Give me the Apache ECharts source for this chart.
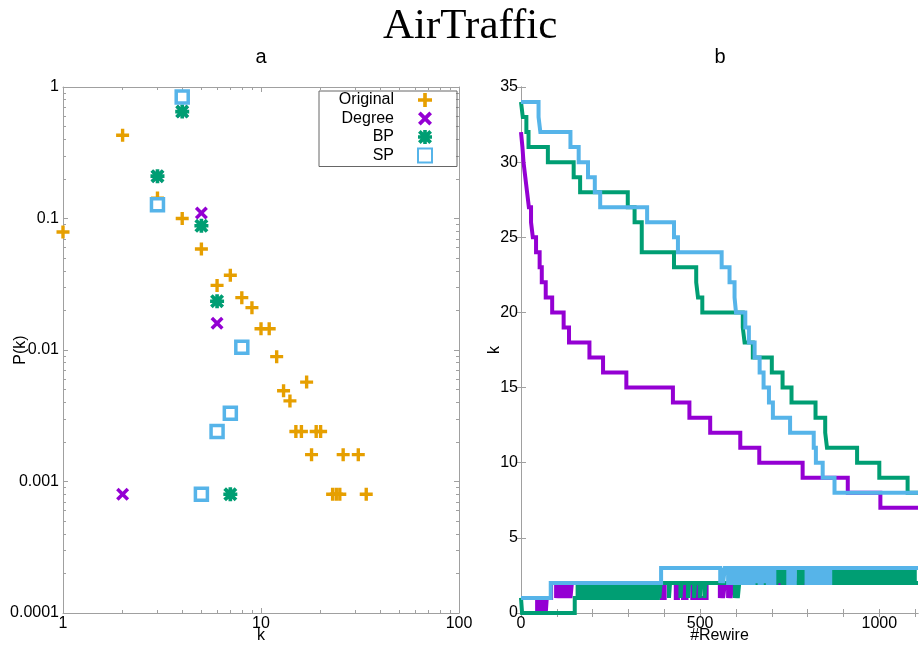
<!DOCTYPE html>
<html><head><meta charset="utf-8">
<script src="https://cdn.jsdelivr.net/npm/echarts@6.0.0/dist/echarts.min.js"></script>
<style>html,body{margin:0;padding:0;background:#fff}#chart{width:920px;height:647px}</style>
</head><body><div id="chart"></div>
<script>
// ---------- Panel a: degree distribution (log-log) ----------
const originalK = [1,2,3,4,5,6,7,8,9,10,11,12,13,14,15,16,17,18,19,20,23,24,25,26,31,34];
const originalP = [0.079,0.43,0.143,0.1,0.0586,0.031,0.037,0.025,0.021,0.0145,0.0145,0.0089,0.0049,0.0041,0.0024,0.0024,0.0057,0.0016,0.0024,0.0024,0.0008,0.0008,0.0008,0.0016,0.0016,0.0008];
const degreeK = [2,3,4,5,6];
const degreeP = [0.0008,0.21,0.65,0.11,0.016];
const bpK = [3,4,5,6,7];
const bpP = [0.21,0.65,0.088,0.0235,0.0008];
const spK = [3,4,5,6,7,8];
const spP = [0.127,0.84,0.0008,0.0024,0.0033,0.0105];
const xTickLabelsA = ['1','10','100'];
const yTickLabelsA = ['0.0001','0.001','0.01','0.1','1'];
const xMinorA = [2,3,4,5,6,7,8,9,20,30,40,50,60,70,80,90];
const yMinorA = [0.0002,0.0003,0.0004,0.0005,0.0006,0.0007,0.0008,0.0009,0.002,0.003,0.004,0.005,0.006,0.007,0.008,0.009,0.02,0.03,0.04,0.05,0.06,0.07,0.08,0.09,0.2,0.3,0.4,0.5,0.6,0.7,0.8,0.9];

// ---------- Panel b: k vs #Rewire (step lines) ----------
const degreeMaxK = [[0,32],[4,31],[7,30],[12,29],[17,28],[22,27],[28,26],[33,25],[42,24],[52,23],[58,22],[69,21],[87,20],[119,19],[134,18],[191,17],[229,16],[294,15],[424,14],[470,13],[528,12],[612,11],[665,10],[786,9],[912,8],[1003,7],[1108,7]];
const degreeMinK = [[0,1],[45,0],[49,1],[53,0],[57,1],[61,0],[65,1],[69,0],[72,1],[84,2],[98,1],[103,2],[108,1],[113,2],[118,1],[123,2],[128,1],[133,2],[138,1],[142,2],[182,1],[186,2],[262,1],[266,2],[300,1],[304,2],[369,1],[373,2],[392,1],[401,2],[432,1],[438,2],[452,1],[462,2],[478,1],[490,2],[495,1],[518,2],[555,1],[560,2],[564,1],[569,2],[578,1],[582,2],[585,1],[589,2],[611,3],[614,2],[700,3],[704,2],[760,3],[764,2],[820,3],[824,2],[900,3],[904,2],[960,3],[964,2],[1020,3],[1024,2],[1108,2]];
const bpMaxK = [[0,34],[5,33],[15,32],[21,31],[75,30],[147,29],[165,28],[298,27],[317,26],[337,24],[427,23],[489,22],[494,21],[506,20],[619,19],[624,18],[647,17],[700,16],[730,15],[755,14],[822,13],[849,12],[854,11],[938,10],[1000,9],[1079,8],[1108,8]];
const bpMinK = [[0,1],[3,0],[150,1],[158,2],[166,1],[174,2],[182,1],[190,2],[198,1],[206,2],[214,1],[222,2],[230,1],[238,2],[246,1],[254,2],[262,1],[270,2],[278,1],[286,2],[294,1],[302,2],[310,1],[318,2],[326,1],[334,2],[342,1],[350,2],[358,1],[366,2],[374,1],[382,2],[386,1],[390,2],[413,1],[416,2],[445,1],[448,2],[466,1],[469,2],[483,1],[486,2],[499,1],[502,2],[512,1],[515,2],[597,1],[601,2],[605,1],[609,2],[639,3],[642,2],[662,3],[665,2],[685,3],[688,2],[713,3],[719,2],[724,3],[730,2],[736,3],[742,2],[774,3],[780,2],[786,3],[792,2],[797,3],[800,2],[871,3],[877,2],[883,3],[891,2],[899,3],[907,2],[915,3],[923,2],[931,3],[939,2],[947,3],[955,2],[963,3],[971,2],[979,3],[987,2],[995,3],[1003,2],[1011,3],[1019,2],[1027,3],[1035,2],[1043,3],[1051,2],[1059,3],[1067,2],[1075,3],[1083,2],[1091,3],[1099,2],[1108,2]];
const spMaxK = [[0,34],[49,33],[54,32],[138,31],[161,30],[187,29],[206,28],[221,27],[352,26],[427,25],[438,24],[560,23],[582,22],[596,21],[600,20],[626,19],[636,18],[652,17],[666,16],[677,15],[692,14],[703,13],[751,12],[817,11],[823,10],[842,9],[875,8],[1108,8]];
const spMinK = [[0,1],[83,2],[391,3],[556,2],[560,3],[564,2],[569,3],[578,2],[584,3],[590,2],[596,3],[602,2],[608,3],[614,2],[620,3],[626,2],[632,3],[643,2],[649,3],[655,2],[659,3],[666,2],[672,3],[678,2],[682,3],[689,2],[695,3],[701,2],[707,3],[746,2],[752,3],[758,2],[764,3],[797,2],[803,3],[809,2],[815,3],[821,2],[827,3],[833,2],[839,3],[845,2],[851,3],[857,2],[863,3],[1108,3]];
const xTicksB = [0,500,1000];
const xTickMarksB = [0,100,200,300,400,500,600,700,800,900,1000,1100];

const C_ORIG = '#E69F00', C_DEG = '#9400D3', C_BP = '#009E73', C_SP = '#56B4E9';
const FONT = 'Liberation Sans, Arial, sans-serif';
const AXC = '#a0a0a0';

const PLUS = 'path://M37,0H63V37H100V63H63V100H37V63H0V37H37Z';
const CROSS = 'path://M0,19L19,0L50,31L81,0L100,19L69,50L100,81L81,100L50,69L19,100L0,81L31,50Z';
const STAR = 'path://M37,0H63V37H100V63H63V100H37V63H0V37H37Z M0,19L19,0L50,31L81,0L100,19L69,50L100,81L81,100L50,69L19,100L0,81L31,50Z';

const pairs = (xs, ys) => xs.map((x, i) => [x, ys[i]]);

function axisBase(extra) {
  return Object.assign({
    splitLine: {show: false},
    axisLine: {show: true, lineStyle: {color: AXC, width: 1}},
    axisTick: {show: true, inside: true, length: 5, interval: 0, lineStyle: {color: AXC}},
    axisLabel: {show: false},
    nameMoveOverlap: false,
    nameTextStyle: {fontFamily: FONT, fontSize: 16, color: '#000'}
  }, extra);
}
const minorTick = (vals, len) => ({show: true, inside: true, length: len, interval: 0, customValues: vals, lineStyle: {color: AXC}});
const lblStyle = {show: true, fontFamily: FONT, fontSize: 16, color: '#000'};
const stepLine = (name, color, data) => ({
  name, type: 'line', step: 'end', xAxisIndex: 4, yAxisIndex: 4, showSymbol: false, symbol: 'none',
  lineStyle: {color, width: 4, join: 'miter', miterLimit: 2, cap: 'butt'}, itemStyle: {color}, data
});

const option = {
  animation: false,
  backgroundColor: '#fff',
  title: {text: 'AirTraffic', left: 378, top: 0,
    textStyle: {fontFamily: 'Liberation Serif, serif', fontSize: 43, fontWeight: 'normal', color: '#000'}},
  graphic: [
    {type: 'text', x: 261, y: 57, style: {text: 'a', fill: '#000', font: '20px Liberation Sans', textAlign: 'center', textVerticalAlign: 'middle', align: 'center', verticalAlign: 'middle'}},
    {type: 'text', x: 720, y: 57, style: {text: 'b', fill: '#000', font: '20px Liberation Sans', textAlign: 'center', textVerticalAlign: 'middle', align: 'center', verticalAlign: 'middle'}}
  ],
  legend: {
    data: ['Original', 'Degree', 'BP', 'SP'],
    orient: 'vertical', align: 'right', right: 463, top: 91,
    padding: [0, 24, 2, 15], borderColor: '#666', borderWidth: 1,
    itemWidth: 14, itemHeight: 14, itemGap: 0.5, selectedMode: false,
    textStyle: {fontFamily: FONT, fontSize: 16, color: '#000', width: 60, align: 'right', padding: [0, 19, 0, 0], lineHeight: 18}
  },
  grid: [
    {left: 63, top: 87, width: 396, height: 526, containLabel: false, outerBoundsMode: 'none'},
    {left: 521, top: 87, width: 397, height: 526, containLabel: false, outerBoundsMode: 'none'}
  ],
  xAxis: [
    axisBase({gridIndex: 0, type: 'log', logBase: 10, min: 1, max: 100, position: 'bottom',
      name: 'k', nameLocation: 'middle', nameGap: 15,
      axisLabel: Object.assign({}, lblStyle, {margin: 3, formatter: v => xTickLabelsA[Math.round(Math.log10(v))]})}),
    axisBase({gridIndex: 0, type: 'log', logBase: 10, min: 1, max: 100, position: 'top'}),
    axisBase({gridIndex: 0, type: 'log', logBase: 10, min: 1, max: 100, position: 'bottom',
      axisLine: {show: false}, axisTick: minorTick(xMinorA, 3)}),
    axisBase({gridIndex: 0, type: 'log', logBase: 10, min: 1, max: 100, position: 'top',
      axisLine: {show: false}, axisTick: minorTick(xMinorA, 3)}),
    axisBase({gridIndex: 1, type: 'value', min: 0, max: 1108, position: 'bottom',
      name: '#Rewire', nameLocation: 'middle', nameGap: 15,
      axisTick: minorTick(xTickMarksB, 4),
      axisLabel: Object.assign({}, lblStyle, {margin: 3, customValues: xTicksB, formatter: v => String(v)})}),
    axisBase({gridIndex: 1, type: 'value', min: 0, max: 1108, position: 'top',
      axisTick: minorTick(xTickMarksB, 4)})
  ],
  yAxis: [
    axisBase({gridIndex: 0, type: 'log', logBase: 10, min: 0.0001, max: 1, position: 'left',
      name: 'P(k)', nameLocation: 'middle', nameGap: 34,
      axisLabel: Object.assign({}, lblStyle, {margin: 4, formatter: v => yTickLabelsA[Math.round(Math.log10(v)) + 4]})}),
    axisBase({gridIndex: 0, type: 'log', logBase: 10, min: 0.0001, max: 1, position: 'right'}),
    axisBase({gridIndex: 0, type: 'log', logBase: 10, min: 0.0001, max: 1, position: 'left',
      axisLine: {show: false}, axisTick: minorTick(yMinorA, 3)}),
    axisBase({gridIndex: 0, type: 'log', logBase: 10, min: 0.0001, max: 1, position: 'right',
      axisLine: {show: false}, axisTick: minorTick(yMinorA, 3)}),
    axisBase({gridIndex: 1, type: 'value', min: 0, max: 35, interval: 5, position: 'left',
      name: 'k', nameLocation: 'middle', nameGap: 18,
      axisLabel: Object.assign({}, lblStyle, {margin: 3})}),
    axisBase({gridIndex: 1, type: 'value', min: 0, max: 35, interval: 5, position: 'right'})
  ],
  series: [
    {name: 'Original', type: 'scatter', xAxisIndex: 0, yAxisIndex: 0, symbol: PLUS, symbolSize: 13,
      itemStyle: {color: C_ORIG, opacity: 1}, data: pairs(originalK, originalP)},
    {name: 'Degree', type: 'scatter', xAxisIndex: 0, yAxisIndex: 0, symbol: CROSS, symbolSize: 13,
      itemStyle: {color: C_DEG, opacity: 1}, data: pairs(degreeK, degreeP)},
    {name: 'BP', type: 'scatter', xAxisIndex: 0, yAxisIndex: 0, symbol: STAR, symbolSize: 14,
      itemStyle: {color: C_BP, opacity: 1}, data: pairs(bpK, bpP)},
    {name: 'SP', type: 'scatter', xAxisIndex: 0, yAxisIndex: 0, symbol: 'rect', symbolSize: 12,
      itemStyle: {color: '#fff', borderColor: C_SP, borderWidth: 3.5, opacity: 1}, data: pairs(spK, spP)},
    stepLine('Degree max k', C_DEG, degreeMaxK),
    stepLine('Degree min k', C_DEG, degreeMinK),
    stepLine('BP max k', C_BP, bpMaxK),
    stepLine('BP min k', C_BP, bpMinK),
    stepLine('SP max k', C_SP, spMaxK),
    stepLine('SP min k', C_SP, spMinK)
  ]
};

const chart = echarts.init(document.getElementById('chart'), null, {renderer: 'canvas'});
chart.setOption(option);
</script></body></html>
